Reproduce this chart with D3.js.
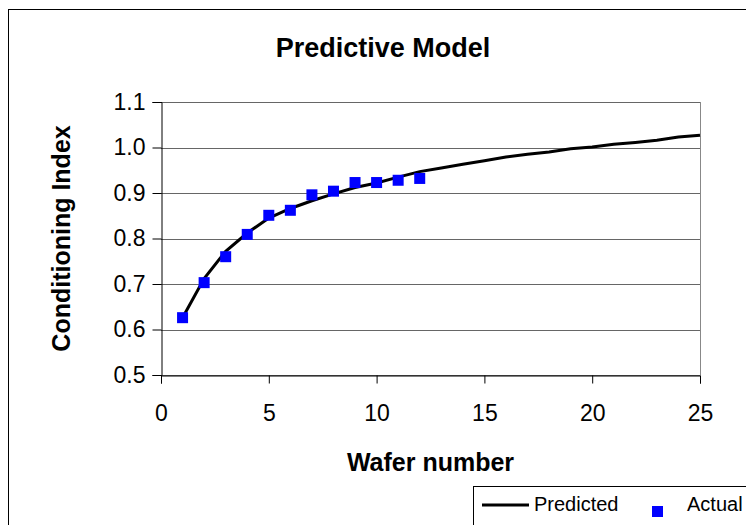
<!DOCTYPE html>
<html lang="en">
<head>
  <meta charset="UTF-8">
  <title>Predictive Model</title>
  <style>
    body {
      margin: 0;
      padding: 0;
      background-color: #fff;
      font-family: "Liberation Sans", Arial, sans-serif;
    }

    .tick text {
      font-size: 23px;
      fill: #000;
    }

    .title {
      font-size: 27px;
      font-weight: bold;
    }

    .axis-label {
      font-size: 25px;
      font-weight: bold;
    }

    .legend text {
      font-size: 20px;
    }
  </style>
</head>
<body>
  <div class="chart"></div>

  <script src="https://d3js.org/d3.v7.min.js"></script>
  <script>
    // Data
    const wafers_predicted = [1, 2, 3, 4, 5, 6, 7, 8, 9, 10, 11, 12, 13, 14, 15, 16, 17, 18, 19, 20, 21, 22, 23, 24, 25];
    const predicted = [0.626, 0.712, 0.772, 0.812, 0.845, 0.866, 0.883, 0.898, 0.912, 0.922, 0.935, 0.947, 0.955,
                       0.963, 0.971, 0.979, 0.985, 0.990, 0.997, 1.001, 1.007, 1.011, 1.016, 1.023, 1.027];
    const wafers_actual = [1, 2, 3, 4, 5, 6, 7, 8, 9, 10, 11, 12];
    const actual = [0.626, 0.703, 0.760, 0.809, 0.851, 0.862, 0.896, 0.904, 0.923, 0.923, 0.928, 0.932];
    const xTicks = [0, 5, 10, 15, 20, 25];
    const yTicks = [0.5, 0.6, 0.7, 0.8, 0.9, 1.0, 1.1];

    const W = 746, H = 525;
    const margin = { top: 102, right: 46, bottom: 150, left: 161 };
    const width = W - margin.left - margin.right;
    const height = H - margin.top - margin.bottom;

    const svg = d3.select(".chart")
      .append("svg")
        .attr("width", W)
        .attr("height", H);

    // outer chart border (runs off the right and bottom edge)
    svg.append("rect")
      .attr("x", 8.5)
      .attr("y", 9.5)
      .attr("width", 800)
      .attr("height", 600)
      .attr("fill", "none")
      .attr("stroke", "#000");

    const g = svg.append("g")
      .attr("transform", `translate(${margin.left},${margin.top})`);

    // Scales
    const xScale = d3.scaleLinear().domain([0, 25]).range([0, width]);
    const yScale = d3.scaleLinear().domain([0.5, 1.1]).range([height, 0]);

    // Gridlines
    g.append("g")
      .selectAll("line")
      .data(yTicks)
      .join("line")
        .attr("x1", 0)
        .attr("x2", width)
        .attr("y1", d => Math.round(yScale(d)) + 0.5)
        .attr("y2", d => Math.round(yScale(d)) + 0.5)
        .attr("stroke", "#666");

    // right border of plot area
    g.append("line")
      .attr("x1", width + 0.5).attr("x2", width + 0.5)
      .attr("y1", yScale(1.1)).attr("y2", yScale(0.5))
      .attr("stroke", "#888");

    // Axes
    const xAxis = g.append("g")
      .attr("transform", `translate(0,${Math.round(height) + 0.5})`)
      .call(d3.axisBottom(xScale).tickValues(xTicks).tickSize(8).tickPadding(21).tickFormat(d3.format("d")));

    const yAxis = g.append("g")
      .attr("transform", "translate(0.5,0)")
      .call(d3.axisLeft(yScale).tickValues(yTicks).tickSize(9).tickPadding(7).tickFormat(d3.format(".1f")));

    [xAxis, yAxis].forEach(a => {
      a.selectAll("path, line").attr("stroke", "#000");
      a.attr("font-family", null).attr("font-size", null);
    });

    // Predicted line
    const lineGenerator = d3.line()
      .x((d, i) => xScale(wafers_predicted[i]))
      .y(d => yScale(d));

    g.append("path")
      .datum(predicted)
      .attr("fill", "none")
      .attr("stroke", "#000")
      .attr("stroke-width", 3)
      .attr("d", lineGenerator);

    // Actual points
    const sq = 11;
    g.append("g")
      .selectAll("rect")
      .data(actual)
      .join("rect")
        .attr("x", (d, i) => xScale(wafers_actual[i]) - sq / 2)
        .attr("y", d => yScale(d) - sq / 2)
        .attr("width", sq)
        .attr("height", sq)
        .attr("fill", "#0000ff");

    // Title
    svg.append("text")
      .attr("class", "title")
      .attr("text-anchor", "middle")
      .attr("x", 383)
      .attr("y", 57)
      .text("Predictive Model");

    // X Axis Label
    svg.append("text")
      .attr("class", "axis-label")
      .attr("text-anchor", "middle")
      .attr("x", margin.left + width / 2)
      .attr("y", 471)
      .text("Wafer number");

    // Y Axis Label
    svg.append("text")
      .attr("class", "axis-label")
      .attr("text-anchor", "middle")
      .attr("transform", "rotate(-90)")
      .attr("x", -(margin.top + height / 2))
      .attr("y", 70)
      .text("Conditioning Index");

    // Legend
    const legend = svg.append("g").attr("class", "legend");
    legend.append("rect")
      .attr("x", 473.5)
      .attr("y", 486.5)
      .attr("width", 300)
      .attr("height", 60)
      .attr("fill", "#fff")
      .attr("stroke", "#000");
    legend.append("line")
      .attr("x1", 482).attr("x2", 529)
      .attr("y1", 505).attr("y2", 505)
      .attr("stroke", "#000")
      .attr("stroke-width", 3);
    legend.append("text")
      .attr("x", 534).attr("y", 511)
      .text("Predicted");
    legend.append("rect")
      .attr("x", 652).attr("y", 506)
      .attr("width", 11).attr("height", 11)
      .attr("fill", "#0000ff");
    legend.append("text")
      .attr("x", 687).attr("y", 511)
      .text("Actual");
  </script>
</body>
</html>
